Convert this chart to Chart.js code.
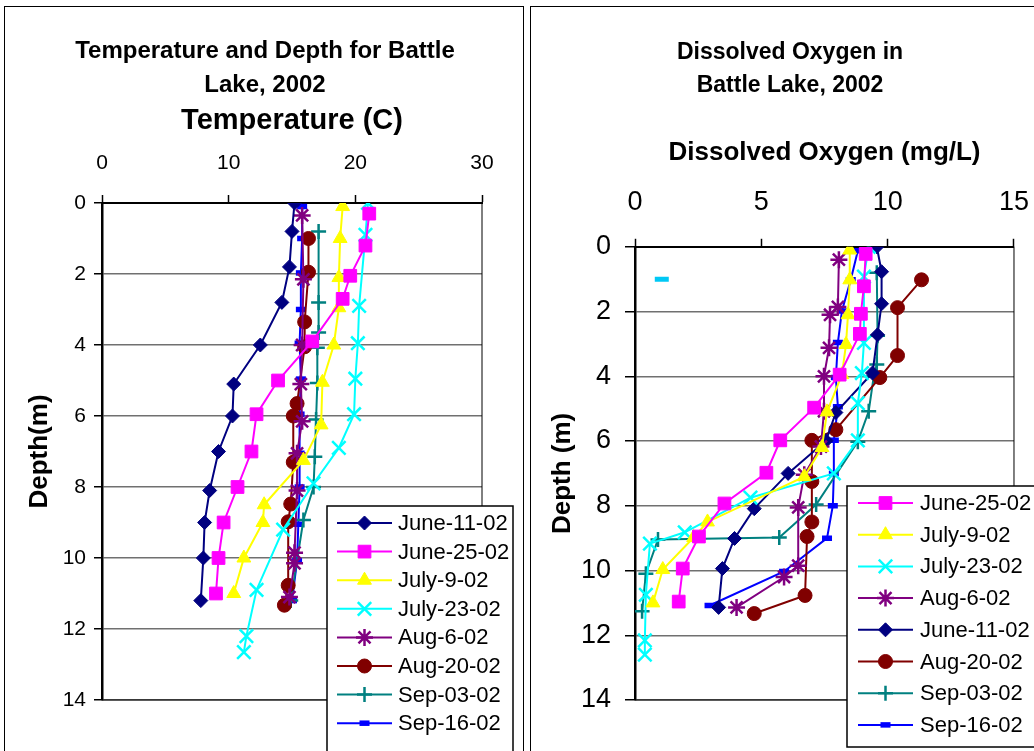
<!DOCTYPE html>
<html>
<head>
<meta charset="utf-8">
<script src="https://cdn.jsdelivr.net/npm/chart.js@4/dist/chart.umd.min.js"></script>
<style>
  html, body { margin: 0; padding: 0; background: #fff; overflow: hidden; }
  body { width: 1034px; height: 751px; position: relative; }
  .panel { position: absolute; top: 6px; width: 520px; height: 780px; border: 1.5px solid #000; box-sizing: border-box; }
  canvas { position: absolute; }
</style>
</head>
<body>
<div class="panel" style="left:4px"></div>
<div class="panel" style="left:530px"></div>
<canvas id="tempChart" width="516" height="743" style="left:6px;top:8px"></canvas>
<canvas id="doChart" width="517" height="743" style="left:532px;top:8px"></canvas>
<script>
// ---- Temperature (C) vs depth (m) ----
const tJune11Depth = [0, 0.8, 1.8, 2.8, 4.0, 5.1, 6.0, 7.0, 8.1, 9.0, 10.0, 11.2];
const tJune11 = [15.2, 15.0, 14.8, 14.2, 12.5, 10.4, 10.3, 9.2, 8.5, 8.1, 8.0, 7.8];
const tJune25Depth = [0.3, 1.2, 2.05, 2.7, 3.9, 5.0, 5.95, 7.0, 8.0, 9.0, 10.0, 11.0];
const tJune25 = [21.1, 20.8, 19.6, 19.0, 16.6, 13.9, 12.2, 11.8, 10.7, 9.6, 9.2, 9.0];
const tJuly9Depth = [0.1, 1.0, 2.1, 2.95, 4.0, 5.05, 6.25, 7.25, 8.5, 9.0, 10.0, 11.0];
const tJuly9 = [19.0, 18.8, 18.7, 18.7, 18.3, 17.4, 17.3, 15.9, 12.8, 12.7, 11.2, 10.4];
const tJuly23Depth = [0, 0.9, 2.9, 3.95, 4.95, 5.95, 6.9, 7.9, 9.2, 10.9, 12.2, 12.65];
const tJuly23 = [21.0, 20.8, 20.3, 20.2, 20.0, 19.9, 18.7, 16.7, 14.3, 12.2, 11.4, 11.2];
const tAug6Depth = [0.35, 2.15, 4.0, 5.1, 6.15, 7.05, 8.1, 9.85, 10.15, 11.1];
const tAug6 = [15.8, 15.9, 15.8, 15.7, 15.8, 15.4, 15.4, 15.2, 15.2, 14.8];
const tAug20Depth = [1.0, 1.95, 3.35, 4.05, 5.65, 6.0, 7.3, 8.48, 8.98, 10.77, 11.33];
const tAug20 = [16.3, 16.3, 16.0, 16.0, 15.4, 15.1, 15.1, 14.9, 14.7, 14.7, 14.4];
const tSep03Depth = [0.8, 2.8, 3.65, 4.08, 5.07, 6.1, 7.15, 8.0, 8.93, 11.2];
const tSep03 = [17.1, 17.1, 17.1, 17.0, 17.0, 16.9, 16.8, 16.7, 15.9, 14.9];
const tSep16Depth = [0.1, 1.0, 1.97, 3.0, 3.95, 4.96, 5.95, 7.05, 8.0, 9.05, 10.08, 11.2];
const tSep16 = [15.8, 15.8, 15.7, 15.7, 15.6, 15.7, 15.6, 15.6, 15.6, 15.5, 15.4, 15.0];

// ---- Dissolved oxygen (mg/L) vs depth (m) ----
const dJune25Depth = [0.22, 1.22, 2.07, 2.69, 3.95, 4.97, 5.98, 6.98, 7.93, 8.95, 9.94, 10.96];
const dJune25 = [9.13, 9.06, 8.94, 8.9, 8.1, 7.09, 5.75, 5.2, 3.54, 2.53, 1.89, 1.73];
const dJuly9Depth = [0.1, 1.02, 2.1, 3.02, 3.95, 5.1, 6.2, 7.1, 8.5, 8.98, 9.97, 11.0];
const dJuly9 = [8.5, 8.5, 8.43, 8.35, 8.19, 7.6, 7.4, 6.7, 2.87, 2.32, 1.1, 0.71];
const dJuly23Depth = [0, 0.92, 2.97, 3.9, 4.83, 5.98, 7.0, 7.75, 8.82, 9.17, 10.75, 12.16, 12.6];
const dJuly23 = [9.25, 9.06, 9.06, 8.98, 8.82, 8.82, 7.87, 4.57, 1.97, 0.59, 0.43, 0.39, 0.39];
const dAug6Depth = [0.4, 1.86, 2.1, 3.12, 4.0, 5.08, 6.17, 7.04, 8.05, 9.85, 10.2, 11.14];
const dAug6 = [8.07, 8.03, 7.72, 7.68, 7.48, 7.48, 7.36, 6.7, 6.46, 6.46, 5.9, 4.02];
const dJune11Depth = [0, 0.77, 1.76, 2.72, 3.9, 5.12, 5.99, 7.0, 8.09, 9.01, 9.94, 11.14];
const dJune11 = [9.57, 9.76, 9.76, 9.6, 9.4, 7.95, 7.56, 6.06, 4.72, 3.94, 3.46, 3.31];
const dAug20Depth = [1.02, 1.88, 3.36, 4.04, 5.65, 5.98, 7.25, 8.5, 8.95, 10.77, 11.33];
const dAug20 = [11.34, 10.39, 10.39, 9.69, 7.95, 7.0, 7.0, 7.0, 6.81, 6.73, 4.72];
const dSep03Depth = [0.8, 2.75, 3.64, 4.0, 5.08, 6.02, 7.96, 8.98, 9.04, 10.1, 11.26];
const dSep03 = [9.57, 9.6, 9.57, 9.45, 9.25, 8.82, 7.17, 5.71, 0.91, 0.43, 0.28];
const dSep16Depth = [0.12, 1.02, 1.98, 2.96, 4.04, 4.94, 5.98, 7.0, 8.0, 9.0, 10.03, 11.08];
const dSep16 = [8.82, 8.54, 8.19, 8.03, 7.95, 8.03, 7.87, 7.87, 7.83, 7.6, 5.9, 2.95];
const dStrayDepth = [1.0];
const dStray = [1.06];

const tempTicks = [0, 10, 20, 30];
const doTicks = [0, 5, 10, 15];
const depthTicks = [0, 2, 4, 6, 8, 10, 12, 14];

const FONT = "'Liberation Sans', Arial, sans-serif";

// marker looks, one per sampling date
const looks = {
  'June-11-02': { color: '#000080', pointStyle: 'rectRot', pointRadius: 7, pointBorderWidth: 1 },
  'June-25-02': { color: '#FF00FF', pointStyle: 'rect', pointRadius: 9, pointBorderWidth: 1 },
  'July-9-02':  { color: '#FFFF00', pointStyle: 'triangle', pointRadius: 8, pointBorderWidth: 1 },
  'July-23-02': { color: '#00FFFF', pointStyle: 'crossRot', pointRadius: 9.5, pointBorderWidth: 2.5 },
  'Aug-6-02':   { color: '#800080', pointStyle: 'star', pointRadius: 8.5, pointBorderWidth: 2.5 },
  'Aug-20-02':  { color: '#800000', pointStyle: 'circle', pointRadius: 7, pointBorderWidth: 1 },
  'Sep-03-02':  { color: '#008080', pointStyle: 'cross', pointRadius: 7.5, pointBorderWidth: 2.5 },
  'Sep-16-02':  { color: '#0000FF', pointStyle: 'line', pointRadius: 5, pointBorderWidth: 5.5 }
};

function series(label, xs, ys) {
  const l = looks[label];
  return {
    label: label,
    data: xs.map((v, i) => ({ x: v, y: ys[i] })),
    showLine: true,
    borderColor: l.color,
    backgroundColor: l.color,
    pointBackgroundColor: l.color,
    pointBorderColor: l.color,
    borderWidth: 2,
    pointStyle: l.pointStyle,
    pointRadius: l.pointRadius,
    pointBorderWidth: l.pointBorderWidth
  };
}

// white legend box laid over the plot, like the spreadsheet original
const boxLegend = {
  id: 'boxLegend',
  afterDraw(chart, args, o) {
    const ctx = chart.ctx;
    ctx.save();
    ctx.fillStyle = '#fff';
    ctx.fillRect(o.x, o.y, o.w, o.h);
    ctx.strokeStyle = '#000';
    ctx.lineWidth = 1.5;
    ctx.strokeRect(o.x, o.y, o.w, o.h);
    let n = 0;
    chart.data.datasets.forEach(ds => {
      if (ds.noLegend) return;
      const y = o.y + o.first + n * o.step;
      n++;
      ctx.strokeStyle = ds.borderColor;
      ctx.lineWidth = 2;
      ctx.beginPath();
      ctx.moveTo(o.x + o.lineL, y);
      ctx.lineTo(o.x + o.lineR, y);
      ctx.stroke();
      ctx.fillStyle = ds.pointBackgroundColor;
      ctx.strokeStyle = ds.pointBorderColor;
      ctx.lineWidth = ds.pointBorderWidth;
      Chart.helpers.drawPoint(ctx, {
        pointStyle: ds.pointStyle, radius: ds.pointRadius, rotation: 0, borderWidth: ds.pointBorderWidth
      }, o.x + (o.lineL + o.lineR) / 2, y);
      ctx.fillStyle = '#000';
      ctx.font = '22px ' + FONT;
      ctx.textBaseline = 'middle';
      ctx.textAlign = 'left';
      ctx.fillText(ds.label, o.x + o.textX, y + 1);
    });
    ctx.restore();
  }
};

// thin frame round the plot area
const plotFrame = {
  id: 'plotFrame',
  beforeDatasetsDraw(chart) {
    const a = chart.chartArea, ctx = chart.ctx;
    ctx.save();
    ctx.strokeStyle = '#000';
    ctx.lineWidth = 1;
    ctx.strokeRect(a.left, a.top, a.right - a.left, a.bottom - a.top);
    ctx.restore();
  }
};

function makeOptions(cfg) {
  return {
    responsive: false,
    animation: false,
    layout: { padding: { left: cfg.padLeft, top: 0, right: cfg.padRight, bottom: 51 } },
    plugins: {
      legend: { display: false },
      tooltip: { enabled: false },
      title: {
        display: true,
        text: cfg.title,
        color: '#000',
        font: { family: FONT, size: cfg.titleSize, weight: 'bold', lineHeight: cfg.titleLH },
        padding: { top: cfg.titlePad, bottom: 0 }
      },
      boxLegend: cfg.legend
    },
    scales: {
      x: {
        type: 'linear',
        position: 'top',
        min: cfg.xTicks[0],
        max: cfg.xTicks[cfg.xTicks.length - 1],
        afterBuildTicks: s => { s.ticks = cfg.xTicks.map(v => ({ value: v })); },
        afterFit: s => { s.height = cfg.xHeight; },
        grid: { drawOnChartArea: false, tickLength: 8, tickColor: '#000', tickWidth: 1.5 },
        border: { color: '#000', width: 2 },
        ticks: { color: '#000', padding: cfg.xTickPad, font: { family: FONT, size: cfg.tickSize } },
        title: {
          display: true, text: cfg.xTitle, color: '#000',
          font: { family: FONT, size: cfg.xTitleSize, weight: 'bold' },
          padding: { top: cfg.xTitlePad, bottom: 0 }
        }
      },
      y: {
        type: 'linear',
        reverse: true,
        min: 0,
        max: 14,
        afterBuildTicks: s => { s.ticks = depthTicks.map(v => ({ value: v })); },
        afterFit: s => { s.width = cfg.yWidth; },
        grid: { color: '#707070', lineWidth: 1.5, tickLength: cfg.yTickLen, tickColor: '#000' },
        border: { color: '#000', width: 2.5 },
        ticks: { color: '#000', padding: cfg.yTickPad, font: { family: FONT, size: cfg.tickSize } },
        title: {
          display: true, text: cfg.yTitle, color: '#000',
          font: { family: FONT, size: 26, weight: 'bold' },
          padding: { top: cfg.yTitlePad, bottom: 0 }
        }
      }
    }
  };
}

new Chart(document.getElementById('tempChart'), {
  type: 'scatter',
  data: {
    datasets: [
      series('June-11-02', tJune11, tJune11Depth),
      series('June-25-02', tJune25, tJune25Depth),
      series('July-9-02', tJuly9, tJuly9Depth),
      series('July-23-02', tJuly23, tJuly23Depth),
      series('Aug-6-02', tAug6, tAug6Depth),
      series('Aug-20-02', tAug20, tAug20Depth),
      series('Sep-03-02', tSep03, tSep03Depth),
      series('Sep-16-02', tSep16, tSep16Depth)
    ]
  },
  options: makeOptions({
    title: ['Temperature and Depth for Battle', 'Lake, 2002'],
    titleSize: 24, titleLH: 1.4, titlePad: 27,
    xTitle: 'Temperature (C)', xTitleSize: 29, xTitlePad: 1.4,
    yTitle: 'Depth(m)', yTitlePad: -23.6,
    xTicks: tempTicks, tickSize: 21, xTickPad: 19,
    xHeight: 100.8, yWidth: 54, yTickLen: 8, yTickPad: 8, padLeft: 42, padRight: 40,
    legend: { x: 321, y: 498, w: 186, h: 270, first: 17, step: 28.6, lineL: 10, lineR: 65, textX: 71 }
  }),
  plugins: [plotFrame, boxLegend]
});

const stray = series('July-23-02', dStray, dStrayDepth);
stray.noLegend = true;
stray.showLine = false;
stray.pointStyle = 'line';
stray.pointRadius = 7;
stray.pointBorderWidth = 5;
stray.pointBorderColor = '#00C8F5';
stray.pointBackgroundColor = '#00C8F5';

new Chart(document.getElementById('doChart'), {
  type: 'scatter',
  data: {
    datasets: [
      series('June-25-02', dJune25, dJune25Depth),
      series('July-9-02', dJuly9, dJuly9Depth),
      series('July-23-02', dJuly23, dJuly23Depth),
      series('Aug-6-02', dAug6, dAug6Depth),
      series('June-11-02', dJune11, dJune11Depth),
      series('Aug-20-02', dAug20, dAug20Depth),
      series('Sep-03-02', dSep03, dSep03Depth),
      series('Sep-16-02', dSep16, dSep16Depth),
      stray
    ]
  },
  options: makeOptions({
    title: ['Dissolved Oxygen in', 'Battle Lake, 2002'],
    titleSize: 23, titleLH: 1.43, titlePad: 28,
    xTitle: 'Dissolved Oxygen (mg/L)', xTitleSize: 26, xTitlePad: 35,
    yTitle: 'Depth (m)', yTitlePad: -18.6,
    xTicks: doTicks, tickSize: 27, xTickPad: 20,
    xHeight: 145, yWidth: 69, yTickLen: 10, yTickPad: 14, padLeft: 34, padRight: 35,
    legend: { x: 315, y: 478, w: 210, h: 261, first: 17, step: 31.7, lineL: 11, lineR: 66, textX: 73 }
  }),
  plugins: [plotFrame, boxLegend]
});
</script>
</body>
</html>
